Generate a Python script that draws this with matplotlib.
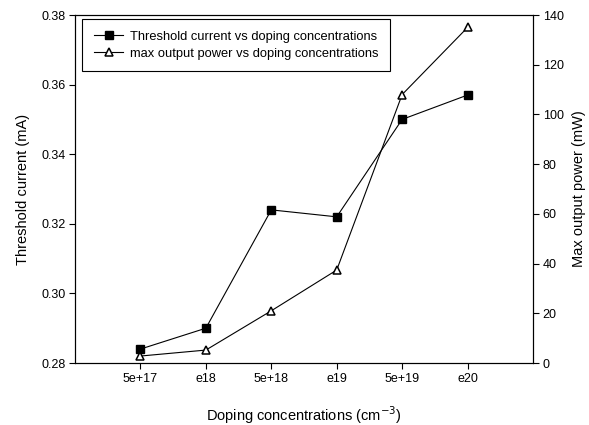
import matplotlib
matplotlib.use("Agg")
import matplotlib.pyplot as plt

# Doping levels and measured results
categories = ["5e+17", "e18", "5e+18", "e19", "5e+19", "e20"]
threshold_current = [0.284, 0.290, 0.324, 0.322, 0.350, 0.357]   # mA
max_output_power = [2.8, 5.2, 21.0, 37.4, 108.0, 135.0]           # mW

plt.rcParams["font.family"] = ["Liberation Sans", "DejaVu Sans"]

fig = plt.figure(figsize=(5.89, 4.25), dpi=100)
ax = fig.add_axes([75 / 589, 1 - 363 / 425, (533 - 75) / 589, (363 - 15) / 425])
ax2 = ax.twinx()

x = list(range(1, len(categories) + 1))

l1, = ax.plot(x, threshold_current, color="black", lw=0.8, marker="s",
              markersize=5.5, markerfacecolor="black", markeredgecolor="black",
              label="Threshold current vs doping concentrations", zorder=3)
l2, = ax2.plot(x, max_output_power, color="black", lw=0.8, marker="^",
               markersize=6, markerfacecolor="white", markeredgecolor="black",
               markeredgewidth=1.1,
               label="max output power vs doping concentrations", zorder=3)

ax.set_xlim(0, len(categories) + 1)
ax.set_ylim(0.28, 0.38)
ax2.set_ylim(0, 140)

ax.set_xticks(x)
ax.set_xticklabels(categories)
ax.set_yticks([0.28, 0.30, 0.32, 0.34, 0.36, 0.38])
ax.set_yticklabels(["0.28", "0.30", "0.32", "0.34", "0.36", "0.38"])
ax2.set_yticks(range(0, 141, 20))

for a in (ax, ax2):
    a.tick_params(direction="out", length=4, width=0.8, labelsize=9, pad=3)
    for s in a.spines.values():
        s.set_linewidth(0.8)

ax.set_xlabel("Doping concentrations (cm$^{-3}$)", fontsize=10.5, labelpad=14)
ax.set_ylabel("Threshold current (mA)", fontsize=10.5, labelpad=8)
ax2.set_ylabel("Max output power (mW)", fontsize=10.5, labelpad=6)

leg = ax.legend(handles=[l1, l2], loc="upper left",
                bbox_to_anchor=(7.3 / 458, 1 - 4.3 / 348),
                fontsize=9.25, frameon=True, fancybox=False, framealpha=1,
                edgecolor="black", handlelength=2.3, handletextpad=0.5,
                borderpad=0.9, labelspacing=0.38, borderaxespad=0)
leg.get_frame().set_linewidth(0.8)
leg.set_zorder(5)

fig.savefig("out.png", dpi=100)
